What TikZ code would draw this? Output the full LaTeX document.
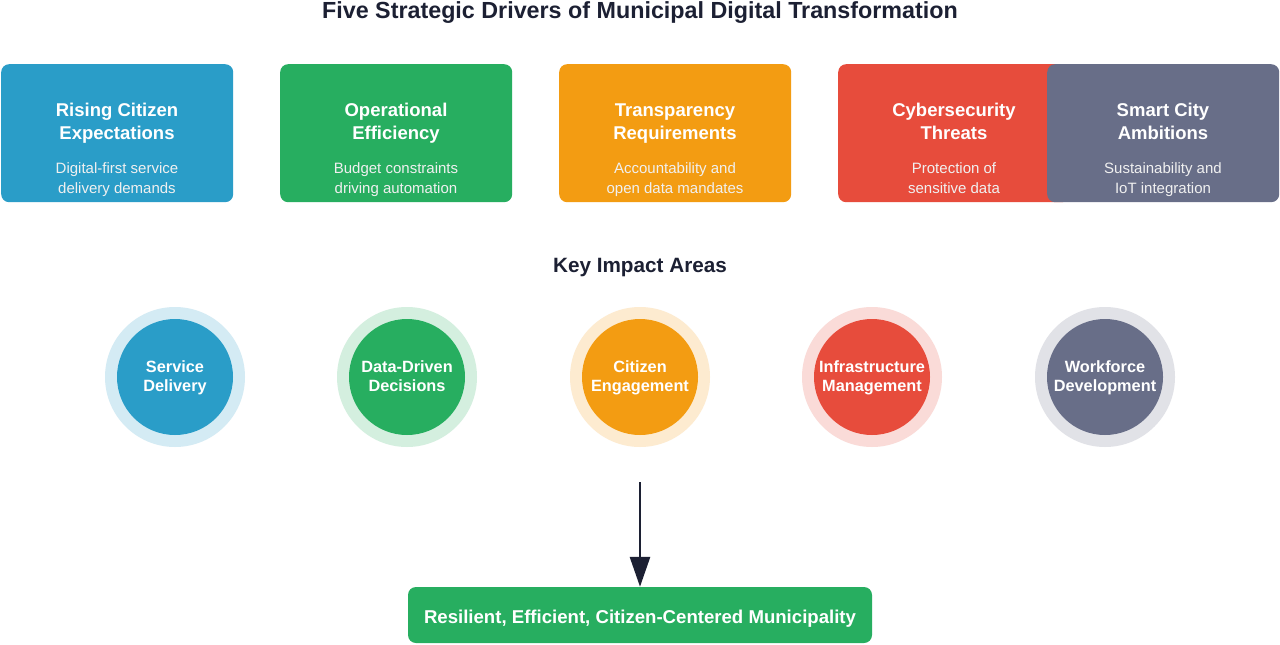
\documentclass[tikz,border=0pt]{standalone}
\usepackage{fontspec}
\setmainfont{Liberation Sans}
\usetikzlibrary{arrows.meta}
\definecolor{cblue}{HTML}{2A9DC8}
\definecolor{cgreen}{HTML}{27AE60}
\definecolor{corange}{HTML}{F39C12}
\definecolor{cred}{HTML}{E74C3C}
\definecolor{cgray}{HTML}{686E88}
\definecolor{cdark}{HTML}{1C2033}
\begin{document}
\begin{tikzpicture}[x=1pt,y=-1pt,
  driver/.style={rounded corners=8pt, minimum width=232pt, minimum height=138pt, inner sep=0pt, anchor=north west},
  dtitle/.style={text=white, inner sep=0pt, font=\bfseries\fontsize{18.5}{23}\selectfont, align=center},
  dsub/.style={text=white!94!black, inner sep=0pt, font=\fontsize{15}{20}\selectfont, align=center},
  halo/.style={circle, minimum size=140pt, inner sep=0pt},
  impact/.style={circle, minimum size=116pt, inner sep=0pt},
  impactlabel/.style={text=white, inner sep=0pt, align=center, font=\bfseries\fontsize{16.3}{19}\selectfont},
  heading/.style={text=cdark, inner sep=0pt, font=\bfseries\fontsize{20.7}{24}\selectfont},
  arrowline/.style={draw=cdark, line width=2.8pt, -{Triangle[length=30pt,width=20pt]}}
]
\useasboundingbox[fill=white] (0,0) rectangle (1280,645);

\node[text=cdark, inner sep=0pt, font=\bfseries\fontsize{23.3}{27}\selectfont] (title) at (640,12.5) {Five Strategic Drivers of Municipal Digital Transformation};

% drivers
\node[driver, fill=cblue] (d1) at (1,64) {};
\node[driver, fill=cgreen] (d2) at (280,64) {};
\node[driver, fill=corange] (d3) at (559,64) {};
\node[driver, fill=cred] (d4) at (838,64) {};
\node[driver, fill=cgray] (d5) at (1047,64) {};

\node[dtitle] (t1) at (117,123.5) {\strut Rising Citizen\\Expectations\strut};
\node[dsub] (s1) at (117,179) {\strut Digital-first service\\delivery demands\strut};
\node[dtitle] (t2) at (396,123.5) {\strut Operational\\Efficiency\strut};
\node[dsub] (s2) at (396,179) {\strut Budget constraints\\driving automation\strut};
\node[dtitle] (t3) at (675,123.5) {\strut Transparency\\Requirements\strut};
\node[dsub] (s3) at (675,179) {\strut Accountability and\\open data mandates\strut};
\node[dtitle] (t4) at (954,123.5) {\strut Cybersecurity\\Threats\strut};
\node[dsub] (s4) at (954,179) {\strut Protection of\\sensitive data\strut};
\node[dtitle] (t5) at (1163,123.5) {\strut Smart City\\Ambitions\strut};
\node[dsub] (s5) at (1163,179) {\strut Sustainability and\\IoT integration\strut};

\node[heading] (kia) at (640,268) {Key Impact Areas};

% impact areas
\node[halo, fill=cblue!20] (h1) at (175,377) {};
\node[impact, fill=cblue] (c1) at (175,377) {};
\node[impactlabel] (l1) at (175,378) {\strut Service\\Delivery\strut};
\node[halo, fill=cgreen!20] (h2) at (407,377) {};
\node[impact, fill=cgreen] (c2) at (407,377) {};
\node[impactlabel] (l2) at (407,378) {\strut Data-Driven\\Decisions\strut};
\node[halo, fill=corange!20] (h3) at (640,377) {};
\node[impact, fill=corange] (c3) at (640,377) {};
\node[impactlabel] (l3) at (640,378) {\strut Citizen\\Engagement\strut};
\node[halo, fill=cred!20] (h4) at (872,377) {};
\node[impact, fill=cred] (c4) at (872,377) {};
\node[impactlabel] (l4) at (872,378) {\strut Infrastructure\\Management\strut};
\node[halo, fill=cgray!20] (h5) at (1105,377) {};
\node[impact, fill=cgray] (c5) at (1105,377) {};
\node[impactlabel] (l5) at (1105,378) {\strut Workforce\\Development\strut};

% outcome
\node[fill=cgreen, rounded corners=8pt, minimum width=464pt, minimum height=56pt, inner sep=0pt] (out) at (640,615) {};
\node[text=white, inner sep=0pt, font=\bfseries\fontsize{18.6}{22}\selectfont] (outtext) at (640,619) {Resilient, Efficient, Citizen-Centered Municipality};

\coordinate (astart) at (640,482);
\draw[arrowline] (astart) -- (out.north);
\end{tikzpicture}
\end{document}
